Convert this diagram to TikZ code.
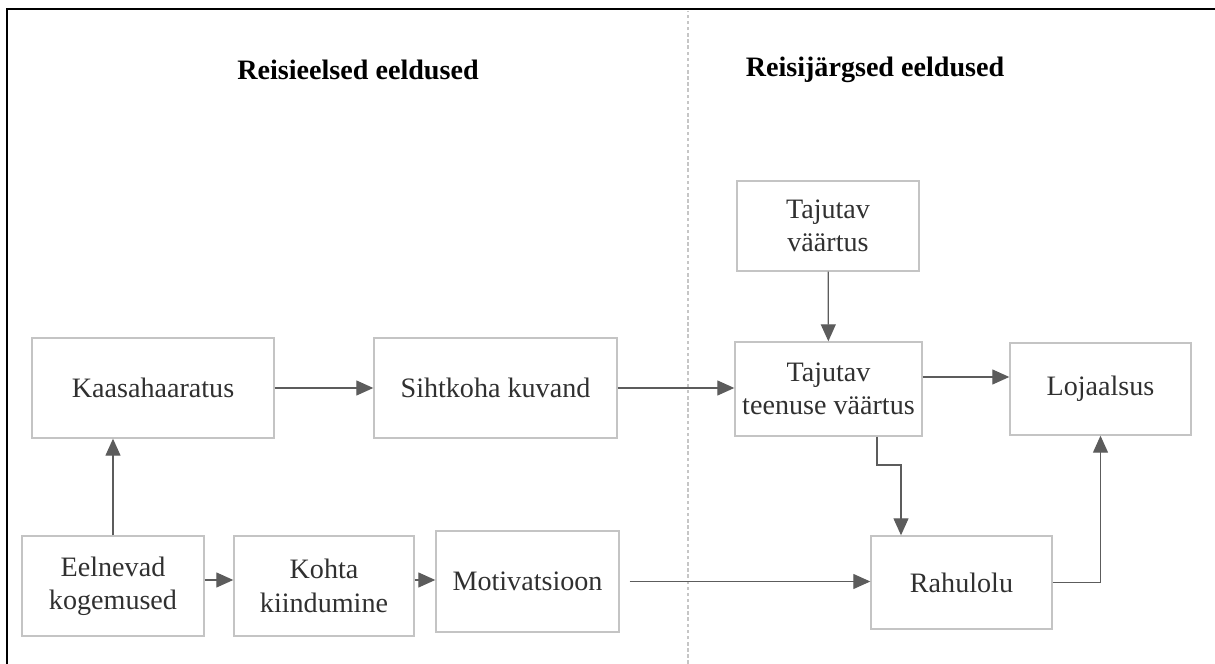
\documentclass[tikz,border=0pt]{standalone}
\usepackage{fontspec}
\setmainfont{Liberation Serif}
\usepackage{tikz}
\usetikzlibrary{arrows.meta,positioning}
\definecolor{boxgray}{HTML}{C4C4C4}
\definecolor{arrowgray}{HTML}{5C5C5C}
\definecolor{textgray}{HTML}{303030}

\begin{document}
\begin{tikzpicture}[auto, >={Triangle[length=0.34cm, width=0.3cm]}, every text node part/.style={align=center},
  box/.style={draw=boxgray, line width=0.8pt, rectangle, inner sep=0pt, text=textgray,
    font=\fontsize{16}{19}\selectfont},
  title/.style={font=\fontsize{16}{19}\selectfont\bfseries, text=black},
  link/.style={->, draw=arrowgray, line width=0.7pt}]
\useasboundingbox (0,0) rectangle (24.3,13.28);
% frame and divider
\draw[line width=1.3pt] (0.14,0) -- (0.14,13.10) -- (24.3,13.10);
\draw[gray!45, line width=0.6pt, dash pattern=on 2pt off 1.5pt] (13.76,0) -- (13.76,13.06);
\draw
  node (pre) at (7.16,11.88)[title]{Reisieelsed eeldused}
  node (post) at (17.5,11.88)[title]{Reisijärgsed eeldused};
\draw
  node (kaasa) at (3.06,5.52)[box, minimum width=4.84cm, minimum height=2cm]{Kaasahaaratus}
  node (siht) at (9.91,5.52)[box, minimum width=4.86cm, minimum height=2cm]{Sihtkoha kuvand}
  node (eeln) at (2.26,1.56)[box, minimum width=3.64cm, minimum height=2cm]{Eelnevad \\ kogemused}
  node (kohta) at (6.48,1.56)[box, minimum width=3.6cm, minimum height=2cm]{Kohta \\ kiindumine}
  node (motiv) at (10.55,1.65)[box, minimum width=3.66cm, minimum height=2.02cm]{Motivatsioon}
  node (tv) at (16.56,8.76)[box, minimum width=3.64cm, minimum height=1.8cm]{Tajutav \\ väärtus}
  node (ttv) at (16.57,5.50)[box, minimum width=3.74cm, minimum height=1.88cm]{Tajutav \\ teenuse väärtus}
  node (loj) at (22.01,5.50)[box, minimum width=3.62cm, minimum height=1.84cm]{Lojaalsus}
  node (rahu) at (19.23,1.63)[box, minimum width=3.62cm, minimum height=1.86cm]{Rahulolu};
% connectors
\coordinate (bend) at (18.02,3.98);
\draw[link] (eeln.north) -- (eeln.north |- kaasa.south);
\draw[link] ([yshift=0.12cm]eeln.east) -- ([yshift=0.12cm]eeln.east -| kohta.west);
\draw[link] ([yshift=0.12cm]kohta.east) -- ([yshift=0.12cm]kohta.east -| motiv.west);
\draw[link] ([xshift=0.2cm]motiv.east) -- (motiv.east -| rahu.west);
\draw[link] (kaasa) -- (siht);
\draw[link] (siht.east) -- (siht.east -| ttv.west);
\draw[link] (tv) -- (ttv);
\draw[link] ([yshift=0.24cm]ttv.east) -- ([yshift=0.24cm]ttv.east -| loj.west);
\draw[link] (ttv.south -| 17.54,0) |- (bend) -- (bend |- rahu.north);
\draw[link] (rahu.east) -| (loj.south);
\end{tikzpicture}
\end{document}
